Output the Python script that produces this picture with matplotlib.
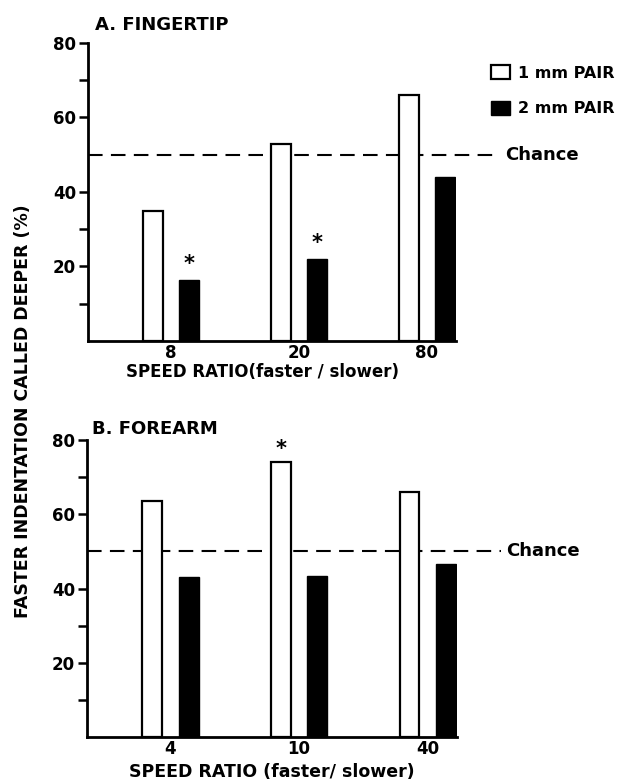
import matplotlib
matplotlib.use("Agg")
import matplotlib.pyplot as plt
from matplotlib.patches import Patch
import numpy as np

plt.rcParams["font.family"] = ["DejaVu Sans"]
plt.rcParams["font.weight"] = "bold"

# Panel A: fingertip
ratios_a = ["8", "20", "80"]
one_mm_a = [35, 53, 66]
two_mm_a = [16.5, 22, 44]

# Panel B: forearm
ratios_b = ["4", "10", "40"]
one_mm_b = [63.5, 74, 66]
two_mm_b = [43, 43.5, 46.5]

chance = 50

fig = plt.figure(figsize=(6.18, 7.81), dpi=100)
ax_a = fig.add_axes([0.1424, 0.5634, 0.5955, 0.3816])
ax_b = fig.add_axes([0.1408, 0.0563, 0.5987, 0.3803])

width = 0.155
offset = 0.142


def draw_panel(ax, ratios, one_mm, two_mm):
    x = np.arange(len(ratios))
    ax.bar(x - offset, one_mm, width, color="white", edgecolor="black",
           linewidth=1.6, zorder=3)
    ax.bar(x + offset, two_mm, width, color="black", edgecolor="black",
           linewidth=1.0, zorder=3)
    ax.plot([-0.648, 2.57], [chance, chance], color="black", lw=1.5,
            dashes=(7, 4), clip_on=False, zorder=2)
    ax.text(2.61, chance, "Chance", fontsize=13, ha="left", va="center")

    ax.set_xlim(-0.648, 2.227)
    ax.set_ylim(0, 80)
    ax.set_xticks(x)
    ax.set_xticklabels(ratios, fontsize=12)
    ax.tick_params(axis="x", length=0, pad=2)
    ax.set_yticks([20, 40, 60, 80])
    ax.set_yticks([10, 30, 70], minor=True)
    ax.tick_params(axis="y", which="both", direction="out", length=6.5,
                   width=1.8, labelsize=12, pad=2)
    for side in ("top", "right"):
        ax.spines[side].set_visible(False)
    for side in ("left", "bottom"):
        ax.spines[side].set_linewidth(2)


draw_panel(ax_a, ratios_a, one_mm_a, two_mm_a)
draw_panel(ax_b, ratios_b, one_mm_b, two_mm_b)

# significance marks
ax_a.text(0 + offset, two_mm_a[0] + 1.5, "*", fontsize=15, ha="center", va="bottom")
ax_a.text(1 + offset, two_mm_a[1] + 1.5, "*", fontsize=15, ha="center", va="bottom")
ax_b.text(1 - offset, one_mm_b[1] + 1.0, "*", fontsize=15, ha="center", va="bottom")

ax_a.text(0.019, 1.06, "A. FINGERTIP", transform=ax_a.transAxes,
          fontsize=13, ha="left", va="center")
ax_b.text(0.0135, 1.037, "B. FOREARM", transform=ax_b.transAxes,
          fontsize=13, ha="left", va="center")

ax_a.text(0.473, -0.104, "SPEED RATIO(faster / slower)", transform=ax_a.transAxes,
          fontsize=12, ha="center", va="center")
ax_b.text(0.5, -0.118, "SPEED RATIO (faster/ slower)", transform=ax_b.transAxes,
          fontsize=12.5, ha="center", va="center")

fig.text(0.038, 0.474, "FASTER INDENTATION CALLED DEEPER (%)", rotation=90,
         fontsize=12.5, ha="center", va="center")

handles = [Patch(facecolor="white", edgecolor="black", linewidth=1.6),
           Patch(facecolor="black", edgecolor="black")]
fig.legend(handles, ["1 mm PAIR", "2 mm PAIR"], loc="upper left",
           bbox_to_anchor=(0.7945, 0.9168), frameon=False, fontsize=11.5,
           handlelength=1.2, handleheight=1.0, handletextpad=0.5,
           labelspacing=1.25, borderpad=0, borderaxespad=0)

fig.savefig("out.png", dpi=100)
